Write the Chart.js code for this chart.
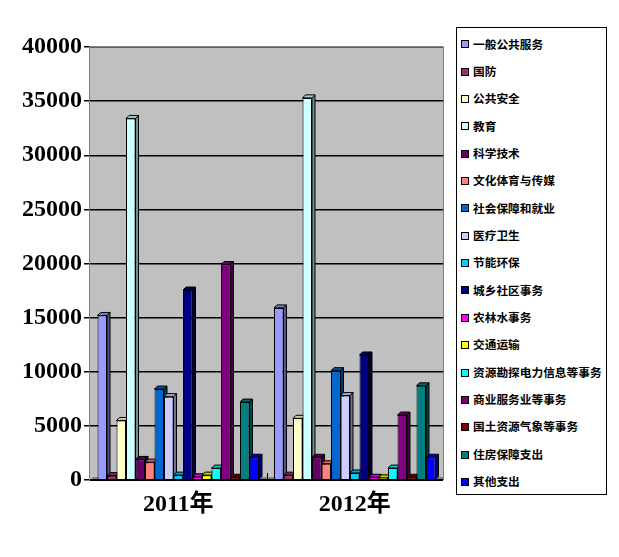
<!DOCTYPE html>
<html><head><meta charset="utf-8">
<script src="https://cdn.jsdelivr.net/npm/chart.js@4/dist/chart.umd.min.js"></script>
<style>
html,body{margin:0;padding:0;background:#fff;}
#wrap{position:relative;width:619px;height:557px;}
#c{position:absolute;left:0;top:0;}
#legend{position:absolute;left:456px;top:27px;width:151px;height:468px;border:1px solid #000;box-sizing:border-box;background:#fff;}
.li{position:absolute;left:4px;height:14px;line-height:14px;font:bold 11.7px "Noto Sans CJK SC",sans-serif;color:#000;white-space:nowrap;}
.sw{display:inline-block;width:6px;height:6px;border:1px solid #000;vertical-align:middle;margin-right:4px;position:relative;top:-1px;}
</style></head>
<body><div id="wrap"><canvas id="c" width="619" height="557"></canvas><div id="legend"></div></div>
<script>
const categories = ['2011年', '2012年'];
const seriesNames = ['一般公共服务','国防','公共安全','教育','科学技术','文化体育与传媒','社会保障和就业','医疗卫生','节能环保','城乡社区事务','农林水事务','交通运输','资源勘探电力信息等事务','商业服务业等事务','国土资源气象等事务','住房保障支出','其他支出'];
const seriesColors = ['#9999FF','#993366','#FFFFCC','#CCFFFF','#660066','#FF8080','#0066CC','#CCCCFF','#00CCFF','#000080','#FF00FF','#FFFF00','#00FFFF','#800080','#800000','#008080','#0000FF'];
const values2011 = [15200, 400, 5500, 33400, 1900, 1650, 8400, 7700, 450, 17550, 300, 450, 1100, 19900, 250, 7200, 2100];
const values2012 = [15900, 450, 5700, 35300, 2100, 1500, 10100, 7800, 650, 11550, 250, 200, 1100, 6000, 250, 8700, 2100];
const yTicks = [0, 5000, 10000, 15000, 20000, 25000, 30000, 35000, 40000];

function shade(hex, f){
  const n = parseInt(hex.slice(1),16);
  const r = Math.round(((n>>16)&255)*f), g = Math.round(((n>>8)&255)*f), b = Math.round((n&255)*f);
  return 'rgb('+r+','+g+','+b+')';
}

const datasets = seriesNames.map((name,i)=>({
  label: name,
  data: [values2011[i], values2012[i]],
  backgroundColor: seriesColors[i],
  borderColor: '#000',
  borderWidth: 1,
  categoryPercentage: 0.915,
  barPercentage: 1.0
}));

const D = 3;
const plotBg = {
  id:'plotBg',
  beforeDraw(chart){
    const {ctx, chartArea:a} = chart;
    ctx.save();
    ctx.fillStyle = '#C0C0C0';
    ctx.fillRect(a.left, a.top, a.right-a.left, a.bottom-a.top);
    ctx.fillStyle = '#808080';
    ctx.beginPath();
    ctx.moveTo(a.left, a.bottom); ctx.lineTo(a.left+D, a.bottom-D); ctx.lineTo(a.right, a.bottom-D); ctx.lineTo(a.right, a.bottom);
    ctx.closePath(); ctx.fill();
    ctx.restore();
  },
  beforeDatasetsDraw(chart){
    const ctx = chart.ctx;
    ctx.save();
    ctx.lineWidth = 1;
    ctx.strokeStyle = '#000';
    chart.data.datasets.forEach((ds, di)=>{
      const meta = chart.getDatasetMeta(di);
      meta.data.forEach(bar=>{
        const p = bar.getProps(['x','y','base','width'], true);
        const l = p.x - p.width/2, r = p.x + p.width/2, t = p.y, b = p.base;
        ctx.fillStyle = shade(ds.backgroundColor, 0.55);
        ctx.beginPath();
        ctx.moveTo(r, t); ctx.lineTo(r+D, t-D); ctx.lineTo(r+D, b-D); ctx.lineTo(r, b); ctx.closePath();
        ctx.fill(); ctx.stroke();
        ctx.fillStyle = shade(ds.backgroundColor, 0.8);
        ctx.beginPath();
        ctx.moveTo(l, t); ctx.lineTo(l+D, t-D); ctx.lineTo(r+D, t-D); ctx.lineTo(r, t); ctx.closePath();
        ctx.fill(); ctx.stroke();
      });
    });
    ctx.restore();
  },
  afterDraw(chart){
    const {ctx, chartArea:a} = chart;
    ctx.save();
    ctx.strokeStyle = '#808080'; ctx.lineWidth = 1;
    ctx.beginPath();
    ctx.moveTo(a.left-0.5, a.bottom); ctx.lineTo(a.left-0.5, a.top-0.5); ctx.lineTo(a.right+0.5, a.top-0.5); ctx.lineTo(a.right+0.5, a.bottom);
    ctx.stroke();
    ctx.strokeStyle = '#000'; ctx.lineWidth = 2;
    ctx.beginPath(); ctx.moveTo(a.left, a.bottom); ctx.lineTo(a.right, a.bottom); ctx.stroke();
    ctx.lineWidth = 1;
    const xs = chart.scales.x;
    const mid = (xs.getPixelForValue(0)+xs.getPixelForValue(1))/2;
    ctx.beginPath(); ctx.moveTo(Math.round(mid)+0.5, a.bottom); ctx.lineTo(Math.round(mid)+0.5, a.bottom-7); ctx.stroke();
    ctx.restore();
  }
};

new Chart(document.getElementById('c'), {
  type: 'bar',
  data: { labels: categories, datasets },
  plugins: [plotBg],
  options: {
    responsive: false,
    animation: false,
    events: [],
    layout: { padding: { left: 0, top: 47, right: 176, bottom: 17 } },
    plugins: { legend: { display: false }, tooltip: { enabled: false } },
    scales: {
      x: {
        grid: { display: false, drawTicks: false },
        border: { display: false },
        ticks: { color: '#000', padding: 10, font: { family: '"Liberation Serif", "Noto Sans CJK SC", serif', size: 24, weight: 'bold' } },
        afterFit(s){ s.height = 60; }
      },
      y: {
        min: 0, max: 40000,
        afterBuildTicks(s){ s.ticks = yTicks.map(v=>({value:v})); },
        grid: { color: '#000', lineWidth: 1.5, tickLength: 6, drawTicks: true },
        border: { display: false },
        ticks: { color: '#000', padding: 2, callback: v => String(v), font: { family: '"Liberation Serif", serif', size: 24, weight: 'bold' } },
        afterFit(s){ s.width = 90; }
      }
    }
  }
});

const lg = document.getElementById('legend');
seriesNames.forEach((name,i)=>{
  const d = document.createElement('div');
  d.className = 'li';
  d.style.top = (43 + i*27.35 - 27 - 1 - 7 - 1.5) + 'px';
  const sw = document.createElement('span');
  sw.className = 'sw'; sw.style.background = seriesColors[i];
  d.appendChild(sw);
  d.appendChild(document.createTextNode(name));
  lg.appendChild(d);
});
</script></body></html>
